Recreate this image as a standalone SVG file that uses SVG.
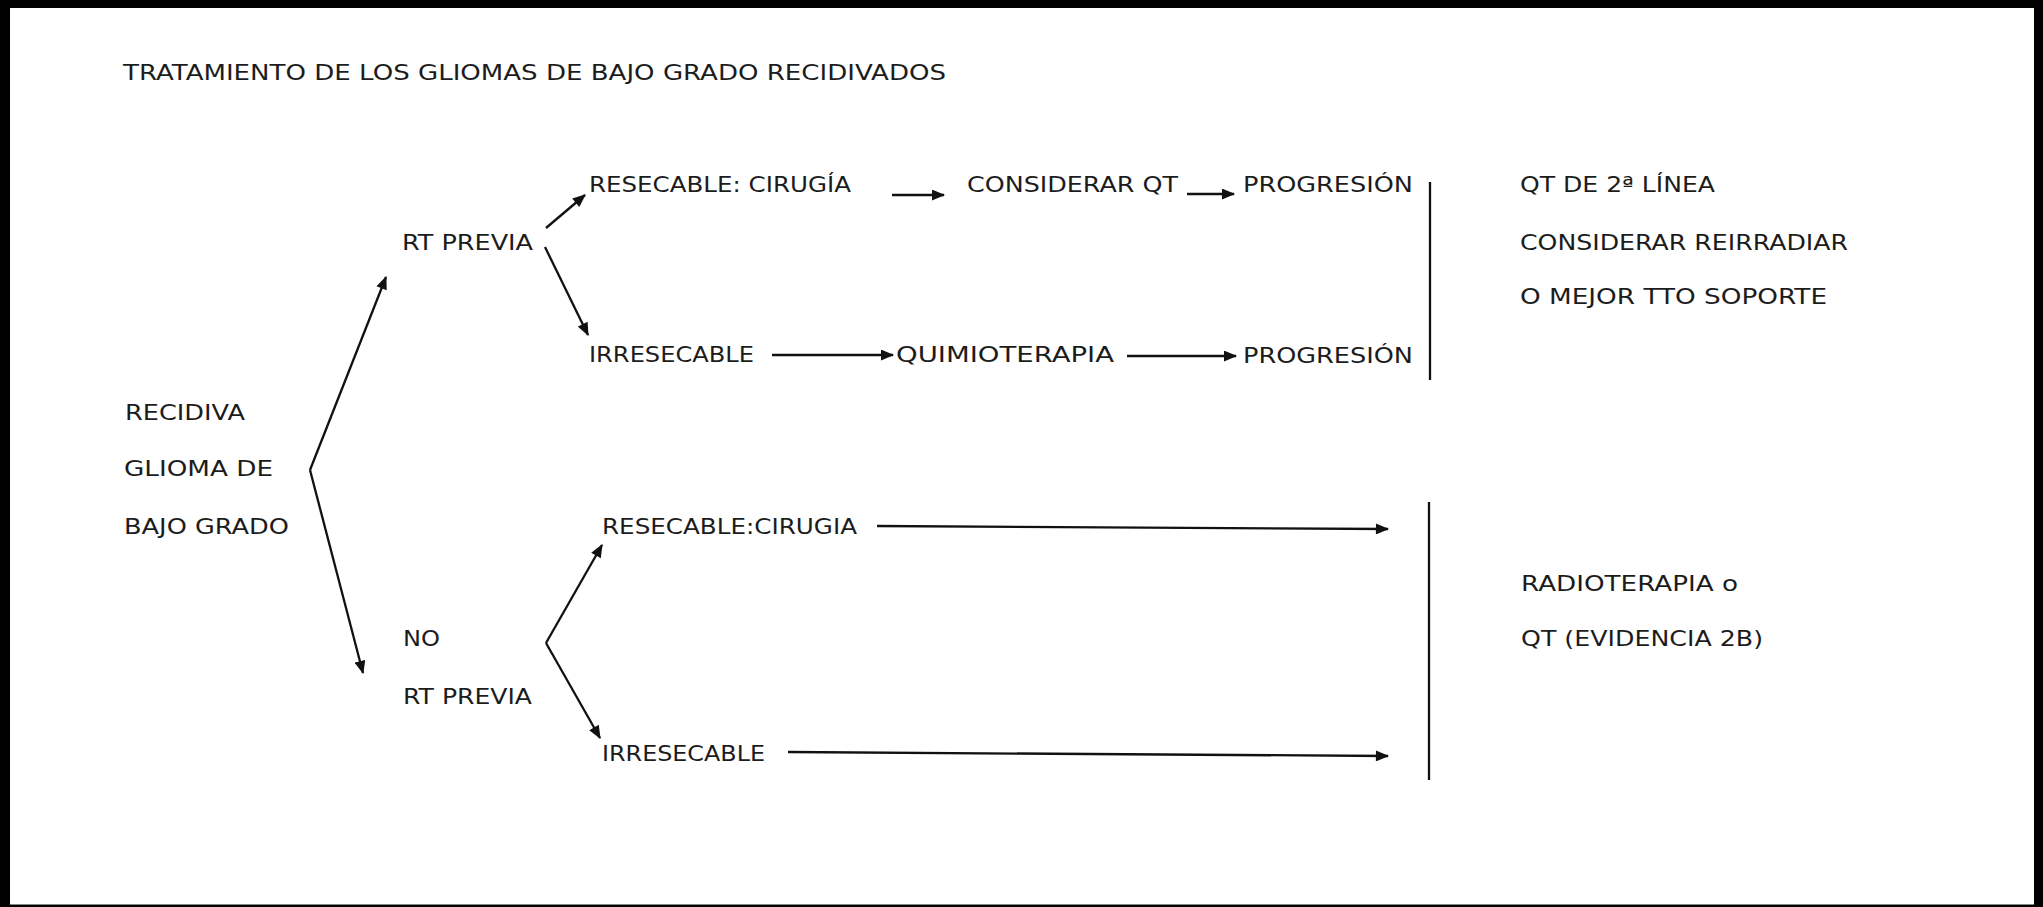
<svg xmlns="http://www.w3.org/2000/svg" width="2043" height="907" viewBox="0 0 2043 907">
<style>
.t{font-family:"DejaVu Sans","Liberation Sans",sans-serif;font-size:21px;fill:#1c1c1c;}
.c{stroke:#111;stroke-width:2.3;fill:none;}
.a{marker-end:url(#ah);}
</style>
<defs>
<marker id="ah" viewBox="0 0 12 10" refX="11" refY="5" markerWidth="14" markerHeight="11" markerUnits="userSpaceOnUse" orient="auto">
<path d="M0,0 L12,5 L0,10 Z" fill="#111"/>
</marker>
</defs>
<rect x="0" y="0" width="2043" height="907" fill="#000"/>
<rect x="10" y="8" width="2024" height="896" fill="#fff"/>
<line x1="10" y1="904.5" x2="2034" y2="904.5" stroke="#888" stroke-width="1"/>
<g id="title"><text class="t" x="123" y="80" textLength="823" lengthAdjust="spacingAndGlyphs">TRATAMIENTO DE LOS GLIOMAS DE BAJO GRADO RECIDIVADOS</text></g>
<g id="recidiva">
<text class="t" x="125" y="420" textLength="120" lengthAdjust="spacingAndGlyphs">RECIDIVA</text>
<text class="t" x="124" y="476" textLength="149" lengthAdjust="spacingAndGlyphs">GLIOMA DE</text>
<text class="t" x="124" y="534" textLength="165" lengthAdjust="spacingAndGlyphs">BAJO GRADO</text>
</g>
<g id="rt-previa"><text class="t" x="402" y="250" textLength="131" lengthAdjust="spacingAndGlyphs">RT PREVIA</text></g>
<g id="resecable-1"><text class="t" x="589" y="192" textLength="262" lengthAdjust="spacingAndGlyphs">RESECABLE: CIRUGÍA</text></g>
<g id="considerar-qt"><text class="t" x="967" y="192" textLength="211" lengthAdjust="spacingAndGlyphs">CONSIDERAR QT</text></g>
<g id="progresion-1"><text class="t" x="1243" y="192" textLength="170" lengthAdjust="spacingAndGlyphs">PROGRESIÓN</text></g>
<g id="irresecable-1"><text class="t" x="589" y="362" textLength="165" lengthAdjust="spacingAndGlyphs">IRRESECABLE</text></g>
<g id="quimioterapia"><text class="t" x="896" y="362" textLength="218" lengthAdjust="spacingAndGlyphs">QUIMIOTERAPIA</text></g>
<g id="progresion-2"><text class="t" x="1243" y="363" textLength="170" lengthAdjust="spacingAndGlyphs">PROGRESIÓN</text></g>
<g id="qt-2-linea">
<text class="t" x="1520" y="192" textLength="195" lengthAdjust="spacingAndGlyphs">QT DE 2ª LÍNEA</text>
<text class="t" x="1520" y="250" textLength="328" lengthAdjust="spacingAndGlyphs">CONSIDERAR REIRRADIAR</text>
<text class="t" x="1520" y="304" textLength="307" lengthAdjust="spacingAndGlyphs">O MEJOR TTO SOPORTE</text>
</g>
<g id="no-rt-previa">
<text class="t" x="403" y="646" textLength="37" lengthAdjust="spacingAndGlyphs">NO</text>
<text class="t" x="403" y="704" textLength="129" lengthAdjust="spacingAndGlyphs">RT PREVIA</text>
</g>
<g id="resecable-2"><text class="t" x="602" y="534" textLength="255" lengthAdjust="spacingAndGlyphs">RESECABLE:CIRUGIA</text></g>
<g id="irresecable-2"><text class="t" x="602" y="761" textLength="163" lengthAdjust="spacingAndGlyphs">IRRESECABLE</text></g>
<g id="radioterapia">
<text class="t" x="1521" y="591" textLength="217" lengthAdjust="spacingAndGlyphs">RADIOTERAPIA o</text>
<text class="t" x="1521" y="646" textLength="242" lengthAdjust="spacingAndGlyphs">QT (EVIDENCIA 2B)</text>
</g>
<g id="connectors">
<line class="c a" x1="310" y1="470" x2="386" y2="277"/>
<line class="c a" x1="310" y1="470" x2="363" y2="673"/>
<line class="c a" x1="546" y1="228" x2="585" y2="195"/>
<line class="c a" x1="545" y1="247" x2="588" y2="335"/>
<line class="c a" x1="892" y1="195" x2="944" y2="195"/>
<line class="c a" x1="1187" y1="194" x2="1234" y2="194"/>
<line class="c a" x1="772" y1="355" x2="893" y2="355"/>
<line class="c a" x1="1127" y1="356" x2="1236" y2="356"/>
<line class="c" x1="1430" y1="182" x2="1430" y2="380"/>
<line class="c a" x1="546" y1="643" x2="602" y2="545"/>
<line class="c a" x1="546" y1="643" x2="600" y2="738"/>
<line class="c a" x1="877" y1="526" x2="1388" y2="529"/>
<line class="c a" x1="788" y1="752" x2="1388" y2="756"/>
<line class="c" x1="1429" y1="502" x2="1429" y2="780"/>
</g>
</svg>
